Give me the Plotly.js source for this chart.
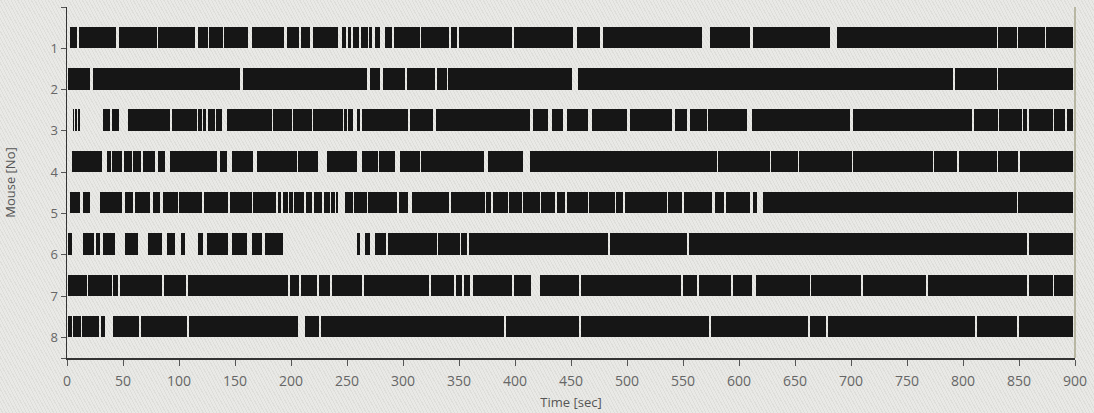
<!DOCTYPE html>
<html>
<head>
<meta charset="utf-8">
<script src="https://cdn.plot.ly/plotly-3.0.1.min.js"></script>
<style>
  html, body { margin:0; padding:0; }
  body {
    width:1094px; height:413px; overflow:hidden;
    background-color:#e9e9e6;
    background-image: repeating-linear-gradient(62deg, rgba(0,0,0,0) 0px, rgba(0,0,0,0) 2px, rgba(120,120,110,0.10) 2px, rgba(120,120,110,0.10) 3px);
  }
  #chart { width:1094px; height:413px; }
</style>
</head>
<body>
<div id="chart"></div>
<script>
// Mouse numbers (y categories)
const mice = [1, 2, 3, 4, 5, 6, 7, 8];
// Recording start / end (sec) for each mouse row
const rowStart = [2.7, 1.0, 5.4, 4.5, 2.7, 0.9, 0.9, 0.9];
const rowEnd   = [898, 898, 898, 898, 898, 898, 898, 898];

// Gaps (white intervals, sec) in each mouse's black activity band
const gaps1 = [[9,11],[44,46],[80,81.5],[114.5,117],[125.5,127],[139,140.5],[161.5,165],[193.5,196.5],[207.5,209],[217,220],[242,245.5],[249.5,251],[254,255.5],[261,262.5],[268.5,270],[272,275],[279.5,284],[290.5,292],[315,316.5],[341.5,343],[348.5,350],[397.5,399],[451.5,455.5],[476,478.5],[567,574],[610,612.5],[681,687.5],[830,831.5],[848,849.5],[873,874.5]];
const gaps2 = [[20.5,23.2],[154.5,157],[268,270.5],[279.5,282],[302,303.5],[329,330.5],[339,340.5],[451,456],[791,792.5],[830,831.5]];
const gaps3 = [[6.3,7.5],[8.8,10],[11.2,32.1],[38.4,40.5],[46.4,54.5],[92,93.8],[116,117],[120.5,121.5],[124,125.5],[132,133],[138.5,142.5],[183,184],[200.5,201.5],[218.5,220],[246,247.5],[250,251],[255,258.5],[261.5,263],[304.5,306],[326.5,329.5],[413.4,416],[429.5,433],[443,446.5],[465,468.5],[500,502.5],[540,543],[553.5,556.3],[571,572.5],[607,611.6],[699,702],[808,809.5],[831,832.5],[852.5,854],[857,858.5],[880,881.5],[891,892.5]];
const gaps4 = [[31.3,35.7],[39.3,40.5],[49,50.5],[58,59],[66.5,68],[78.6,81.3],[87.5,92],[134,136.6],[143,147.3],[166,169.6],[205,206.5],[224,232],[259,263.4],[277.5,279],[292.9,297.3],[315,316.5],[372.3,376],[407,413.4],[580,581.5],[627.5,629],[652.5,654],[700.5,702],[773,774.5],[794.5,796],[830,831.5],[849,850.5]];
const gaps5 = [[11.6,14.3],[20.5,29.5],[49.1,51.8],[58.9,60.7],[74.1,76.8],[83,85.7],[99,100.2],[120.5,122],[143.8,145.3],[165.2,166.5],[187,188.5],[191.5,193],[197,198.5],[201.5,203],[212,213.5],[219,220.5],[228,229.5],[234.5,236],[239,240.5],[242,248.2],[255,256.5],[267.5,269],[294.5,296],[304.5,308],[341,342.5],[373,374.5],[379,380.5],[393.5,395],[406,407.5],[422,423.5],[435.5,437.5],[444.5,446.5],[465,466.5],[489,490.5],[496.4,498.2],[535.5,537],[549,550.5],[575.5,578.6],[586.5,588],[609.8,612.5],[616.1,621.4],[848,849.5]];
const gaps6 = [[4.5,14.3],[24.5,26],[29.5,32.1],[42.9,51.8],[63.4,72.3],[84.8,89.3],[96.4,101.8],[105.4,117],[121.4,125],[143.8,147.3],[160.7,165.2],[174.1,176.8],[192.9,258.9],[261.6,266.1],[270.5,275],[284.5,286.6],[330,331.5],[350.5,352],[357.5,359],[483,484.5],[553.5,555],[857,858.5]];
const gaps7 = [[17.5,19],[40,41.5],[45.5,47.3],[85,86.5],[106.5,108],[197,199],[207.5,209],[223.5,225],[234.8,236.6],[263.5,265],[323.5,325],[345.5,347],[353,354.5],[359.8,362.5],[397.5,399],[414.5,422],[457.5,459],[548.5,550],[562.5,564],[593,594.5],[612,615.5],[663,664.5],[709,710.5],[767,768.5],[857,858.5],[880,881.5]];
const gaps8 = [[4.5,5.5],[12.5,13.5],[29,30.5],[33.5,41],[64.5,66],[107,108.5],[206,212.5],[225,226.5],[390.5,392],[457.5,459],[573.5,575],[662,663.5],[678,679.5],[811,812.5],[848.5,850]];

const xTicks = [0,50,100,150,200,250,300,350,400,450,500,550,600,650,700,750,800,850,900];

const allGaps = [gaps1, gaps2, gaps3, gaps4, gaps5, gaps6, gaps7, gaps8];

const traces = mice.map((m, i) => {
  const g = allGaps[i].slice().sort((a,b)=>a[0]-b[0]);
  const bases = [], lens = [];
  let cur = rowStart[i];
  g.forEach(([s,e]) => {
    if (s > cur) { bases.push(cur); lens.push(s - cur); }
    cur = Math.max(cur, e);
  });
  if (rowEnd[i] > cur) { bases.push(cur); lens.push(rowEnd[i] - cur); }
  return {
    type: 'bar',
    orientation: 'h',
    base: bases,
    x: lens,
    y: bases.map(() => m - 0.26),
    width: 0.52,
    marker: { color: '#161616', line: { width: 0 } },
    hoverinfo: 'skip',
    showlegend: false
  };
});

const layout = {
  width: 1094,
  height: 413,
  margin: { l: 67, r: 19, t: 7, b: 55 },
  paper_bgcolor: 'rgba(0,0,0,0)',
  plot_bgcolor: 'rgba(0,0,0,0)',
  barmode: 'overlay',
  bargap: 0,
  font: { family: 'Open Sans, Noto Sans, sans-serif', color: '#555', size: 13 },
  xaxis: {
    range: [0, 900],
    tickvals: xTicks,
    ticktext: xTicks.map(String),
    ticks: 'outside', ticklen: 6, tickcolor: '#555', tickwidth: 1,
    ticklabelstandoff: 4,
    showgrid: false, zeroline: false,
    showline: true, linecolor: '#333', linewidth: 1.5,
    tickfont: { size: 14, color: '#666' },
    title: { text: 'Time [sec]', font: { size: 13, color: '#555' }, standoff: 8 }
  },
  yaxis: {
    range: [8.5, 0],
    tickvals: [0, 1, 2, 3, 4, 5, 6, 7, 8, 8.5],
    ticktext: ['', '1', '2', '3', '4', '5', '6', '7', '8', ''],
    ticks: 'outside', ticklen: 5, tickcolor: '#555', tickwidth: 1,
    showgrid: false, zeroline: false,
    showline: true, linecolor: '#333', linewidth: 1.5,
    tickfont: { size: 13, color: '#666' },
    title: { text: 'Mouse [No]', font: { size: 13, color: '#555' }, standoff: 32 }
  },
  shapes: [
    { type: 'line', xref: 'paper', yref: 'paper', x0: 1, x1: 1, y0: 0, y1: 1,
      line: { color: '#a9a78c', width: 1.5 } }
  ]
};

Plotly.newPlot('chart', traces, layout, { staticPlot: true, displayModeBar: false });
</script>
</body>
</html>
